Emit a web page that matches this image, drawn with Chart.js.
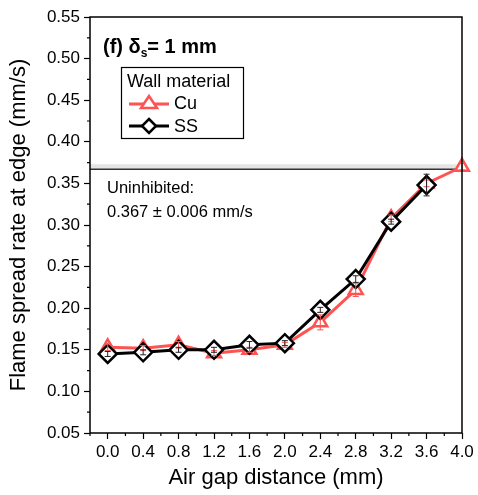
<!DOCTYPE html>
<html>
<head>
<meta charset="utf-8">
<script src="https://cdn.jsdelivr.net/npm/chart.js@4.4.1/dist/chart.umd.min.js"></script>
<style>
  html, body { margin: 0; padding: 0; background: #fff; }
  #wrap { width: 478px; height: 495px; }
</style>
</head>
<body>
<div id="wrap"><canvas id="chart" width="478" height="495"></canvas></div>
<script>
// Data
const gapCu = [0.0, 0.4, 0.8, 1.2, 1.6, 2.0, 2.4, 2.8, 3.2, 3.6, 4.0];
const rateCu = [0.153, 0.152, 0.156, 0.146, 0.150, 0.156, 0.183, 0.222, 0.308, 0.350, 0.370];
const errCu = [0.004, 0.003, 0.004, 0.003, 0.003, 0.003, 0.009, 0.008, 0.004, 0.004, 0.004];

const gapSS = [0.0, 0.4, 0.8, 1.2, 1.6, 2.0, 2.4, 2.8, 3.2, 3.6];
const rateSS = [0.145, 0.147, 0.150, 0.150, 0.156, 0.158, 0.198, 0.235, 0.304, 0.348];
const errSS = [0.003, 0.003, 0.003, 0.003, 0.004, 0.003, 0.003, 0.004, 0.003, 0.013];

const xTicks = [0.0, 0.4, 0.8, 1.2, 1.6, 2.0, 2.4, 2.8, 3.2, 3.6, 4.0];
const yTicks = [0.05, 0.10, 0.15, 0.20, 0.25, 0.30, 0.35, 0.40, 0.45, 0.50, 0.55];
const xMinor = [-0.2, 0.2, 0.6, 1.0, 1.4, 1.8, 2.2, 2.6, 3.0, 3.4, 3.8];
const yMinor = [0.075, 0.125, 0.175, 0.225, 0.275, 0.325, 0.375, 0.425, 0.475, 0.525];

const uninhibited = 0.367;
const uninhibitedErr = 0.006;

const RED = '#ff5252';
const FONT = "'Liberation Sans', Arial, sans-serif";

// Frame, minor ticks, uninhibited line
const framePlugin = {
    id: 'frame',
    beforeDatasetsDraw(chart) {
        const { ctx, chartArea: a, scales: { x, y } } = chart;
        ctx.save();
        // uninhibited band and line
        const yl = y.getPixelForValue(uninhibited);
        const yt = y.getPixelForValue(uninhibited + uninhibitedErr);
        ctx.fillStyle = '#e4e4e4';
        ctx.fillRect(a.left, yt, a.right - a.left, yl - yt);
        ctx.strokeStyle = '#333';
        ctx.lineWidth = 1.5;
        ctx.beginPath();
        ctx.moveTo(a.left, yl);
        ctx.lineTo(a.right, yl);
        ctx.stroke();
        ctx.restore();
    },
    afterDraw(chart) {
        const { ctx, chartArea: a, scales: { x, y } } = chart;
        ctx.save();
        ctx.strokeStyle = '#000';
        ctx.lineWidth = 1.5;
        ctx.strokeRect(a.left, a.top, a.right - a.left, a.bottom - a.top);
        ctx.lineWidth = 1.2;
        ctx.beginPath();
        xMinor.forEach(v => {
            const px = x.getPixelForValue(v);
            ctx.moveTo(px, a.bottom);
            ctx.lineTo(px, a.bottom + 3);
        });
        yMinor.forEach(v => {
            const py = y.getPixelForValue(v);
            ctx.moveTo(a.left, py);
            ctx.lineTo(a.left - 3, py);
        });
        ctx.stroke();

        // text annotations
        ctx.fillStyle = '#000';
        ctx.textBaseline = 'alphabetic';
        ctx.font = 'bold 20px ' + FONT;
        let tx = a.left + 13;
        ctx.fillText('(f) δ', tx, 53);
        tx += ctx.measureText('(f) δ').width;
        ctx.font = 'bold 12px ' + FONT;
        ctx.fillText('s', tx, 57);
        tx += ctx.measureText('s').width;
        ctx.font = 'bold 20px ' + FONT;
        ctx.fillText('= 1 mm', tx, 53);

        ctx.font = '16.5px ' + FONT;
        ctx.fillText('Uninhibited:', a.left + 17, 193);
        ctx.fillText('0.367 ± 0.006 mm/s', a.left + 17, 217);

        // legend
        ctx.lineWidth = 1.2;
        ctx.strokeRect(121.5, 67.5, 122, 71);
        ctx.font = '18px ' + FONT;
        ctx.fillText('Wall material', 127, 87);
        ctx.fillText('Cu', 174, 109);
        ctx.fillText('SS', 174, 132);
        ctx.lineWidth = 3;
        ctx.strokeStyle = RED;
        ctx.beginPath();
        ctx.moveTo(129, 104); ctx.lineTo(169, 104);
        ctx.stroke();
        ctx.strokeStyle = '#000';
        ctx.beginPath();
        ctx.moveTo(129, 126); ctx.lineTo(169, 126);
        ctx.stroke();
        ctx.fillStyle = '#fff';
        ctx.lineWidth = 2.5;
        ctx.strokeStyle = RED;
        ctx.beginPath();
        ctx.moveTo(149, 96); ctx.lineTo(157, 108); ctx.lineTo(141, 108); ctx.closePath();
        ctx.fill(); ctx.stroke();
        ctx.strokeStyle = '#000';
        ctx.beginPath();
        ctx.moveTo(149, 119); ctx.lineTo(156, 126); ctx.lineTo(149, 133); ctx.lineTo(142, 126); ctx.closePath();
        ctx.fill(); ctx.stroke();
        ctx.restore();
    }
};

// Error bars drawn on top of markers (thin)
const errorPlugin = {
    id: 'errbars',
    afterDatasetsDraw(chart) {
        const { ctx, scales: { x, y } } = chart;
        const sets = [
            { xs: gapCu, ys: rateCu, es: errCu, color: RED },
            { xs: gapSS, ys: rateSS, es: errSS, color: '#222' }
        ];
        ctx.save();
        ctx.lineWidth = 1;
        sets.forEach(s => {
            ctx.strokeStyle = s.color;
            s.xs.forEach((xv, i) => {
                const px = x.getPixelForValue(xv);
                const p1 = y.getPixelForValue(s.ys[i] + s.es[i]);
                const p2 = y.getPixelForValue(s.ys[i] - s.es[i]);
                ctx.beginPath();
                ctx.moveTo(px, p1); ctx.lineTo(px, p2);
                ctx.moveTo(px - 3, p1); ctx.lineTo(px + 3, p1);
                ctx.moveTo(px - 3, p2); ctx.lineTo(px + 3, p2);
                ctx.stroke();
            });
        });
        ctx.restore();
    }
};

const ctx = document.getElementById('chart').getContext('2d');
new Chart(ctx, {
    type: 'line',
    data: {
        datasets: [
            {
                label: 'Cu',
                data: gapCu.map((g, i) => ({ x: g, y: rateCu[i] })),
                borderColor: RED,
                borderWidth: 3,
                pointStyle: 'triangle',
                pointRadius: 8,
                pointBorderWidth: 2.5,
                pointBackgroundColor: '#fff',
                pointBorderColor: RED,
                order: 2
            },
            {
                label: 'SS',
                data: gapSS.map((g, i) => ({ x: g, y: rateSS[i] })),
                borderColor: '#000',
                borderWidth: 3,
                pointStyle: 'rectRot',
                pointRadius: 9,
                pointBorderWidth: 2.5,
                pointBackgroundColor: '#fff',
                pointBorderColor: '#000',
                order: 1
            }
        ]
    },
    options: {
        responsive: false,
        animation: false,
        clip: false,
        layout: { padding: { left: 0, right: 16, top: 17, bottom: 0 } },
        plugins: { legend: { display: false }, tooltip: { enabled: false } },
        scales: {
            x: {
                type: 'linear',
                min: -0.2,
                max: 4.0,
                afterBuildTicks: s => { s.ticks = xTicks.map(v => ({ value: v })); },
                afterFit: s => { s.height = 62; },
                ticks: {
                    color: '#000',
                    font: { family: FONT, size: 17 },
                    padding: 3,
                    maxRotation: 0,
                    callback: v => v.toFixed(1)
                },
                grid: { drawOnChartArea: false, color: '#000', tickLength: 6, tickWidth: 1.2 },
                border: { display: false },
                title: {
                    display: true,
                    text: 'Air gap distance (mm)',
                    color: '#000',
                    font: { family: FONT, size: 22 },
                    padding: { top: 3 }
                }
            },
            y: {
                type: 'linear',
                min: 0.05,
                max: 0.55,
                afterBuildTicks: s => { s.ticks = yTicks.map(v => ({ value: v })); },
                afterFit: s => { s.width = 90; },
                ticks: {
                    color: '#000',
                    font: { family: FONT, size: 17 },
                    padding: 4,
                    callback: v => v.toFixed(2)
                },
                grid: { drawOnChartArea: false, color: '#000', tickLength: 6, tickWidth: 1.2 },
                border: { display: false },
                title: {
                    display: true,
                    text: 'Flame spread rate at edge (mm/s)',
                    color: '#000',
                    font: { family: FONT, size: 22 },
                    padding: { top: 6, bottom: 0 }
                }
            }
        }
    },
    plugins: [framePlugin, errorPlugin]
});
</script>
</body>
</html>
